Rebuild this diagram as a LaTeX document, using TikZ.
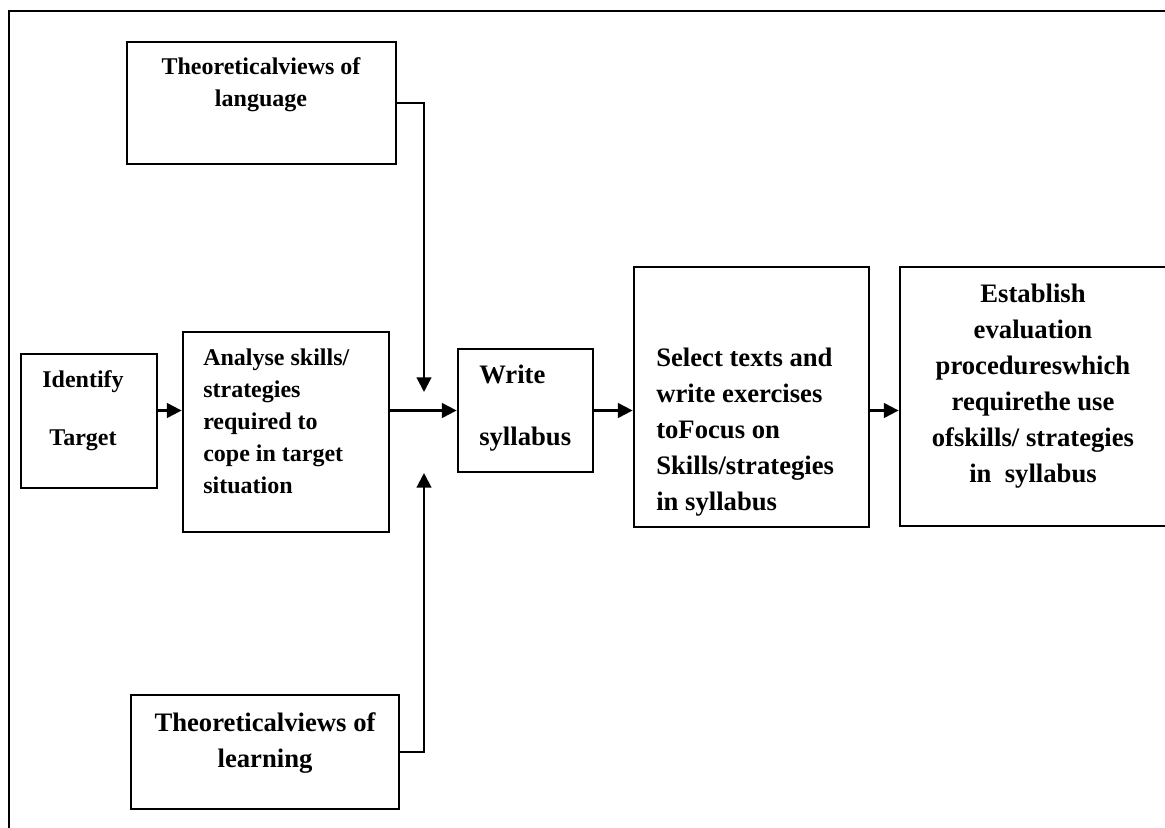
\documentclass[tikz,border=0pt]{standalone}
\usepackage{fontspec}
\setmainfont{Liberation Serif}
\usetikzlibrary{positioning, arrows.meta, fit}

\begin{document}
\begin{tikzpicture}[
    x=0.75pt, y=-0.75pt,
    frame/.style={line width=1.3pt},
    box/.style={draw, line width=2.1pt, inner sep=0pt},
    txt/.style={inner sep=0pt, font=\fontsize{18}{24}\selectfont\bfseries},
    bigtxt/.style={inner sep=0pt, font=\fontsize{20}{27}\selectfont\bfseries},
    arr/.style={-{Triangle[length=11pt, width=11pt]}, line width=1.6pt},
  ]

\useasboundingbox (0,0) rectangle (1165,828);
\clip (0,0) rectangle (1165,828);

% outer frame (runs off the page at right and bottom)
\draw[frame] (9,850) -- (9,11) -- (1190,11);

% boxes
\node[box, fit={(127,42) (396,164)}] (lang) {};
\node[box, fit={(21,354) (157,488)}] (ident) {};
\node[box, fit={(183,332) (389,532)}] (analyse) {};
\node[box, fit={(458,349) (593,472)}] (write) {};
\node[box, fit={(634,267) (869,527)}] (select) {};
\node[box, fit={(900,267) (1185,526)}] (establish) {};
\node[box, fit={(131,695) (399,809)}] (learn) {};

% texts
\node[txt, anchor=north, align=center] (langtxt) at (261,57) {Theoreticalviews of\\language};
\node[txt, anchor=north, align=center] (identtxt) at (83,370) {Identify\\[19.5pt]Target};
\node[txt, anchor=north west, align=left] (analysetxt) at (203,349)
    {Analyse skills/\\strategies\\required to\\cope in target\\situation};
\node[bigtxt, anchor=north west, align=left] (writetxt) at (479,365) {Write\\[19.5pt]syllabus};
\node[bigtxt, anchor=north west, align=left] (selecttxt) at (656,348)
    {Select texts and\\write exercises\\toFocus on\\Skills/strategies\\in syllabus};
\node[bigtxt, anchor=north, align=center] (establishtxt) at (1033,284)
    {Establish\\evaluation\\procedureswhich\\requirethe use\\ofskills/ strategies\\in~ syllabus};
\node[bigtxt, anchor=north, align=center] (learntxt) at (265,712) {Theoreticalviews of\\learning};

% connectors
\coordinate (langin) at (424,392);
\coordinate (learnin) at (424,473);
\draw[arr] (lang.east) -| (langin);
\draw[arr] (learn.east) -| (learnin);
\draw[arr] (ident.east |- write.center) -- (analyse.west |- write.center);
\draw[arr] (analyse.east |- write.center) -- (write.west);
\draw[arr] (write.east) -- (select.west |- write.east);
\draw[arr] (select.east |- write.east) -- (establish.west |- write.east);
\end{tikzpicture}
\end{document}
